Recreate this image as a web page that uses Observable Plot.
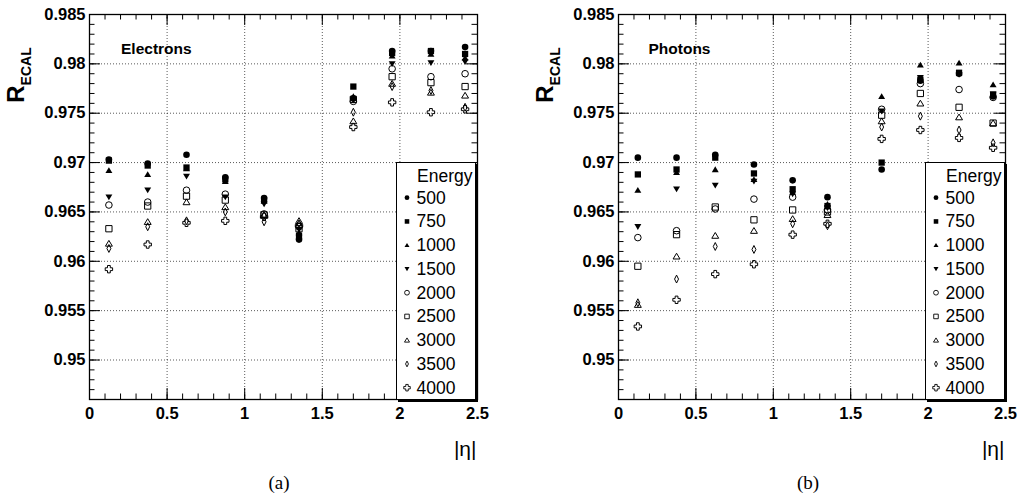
<!DOCTYPE html>
<html><head><meta charset="utf-8">
<script src="https://cdn.jsdelivr.net/npm/d3@7"></script>
<script src="https://cdn.jsdelivr.net/npm/@observablehq/plot@0.6"></script>
<style>
body{margin:0;background:#fff;}
#wrap{position:relative;width:1020px;height:498px;overflow:hidden;font-family:"Liberation Sans",Arial,sans-serif;background:#fff;}
.panel{position:absolute;top:0;}
.cap{position:absolute;top:472px;line-height:22px;font-family:"Liberation Serif","Times New Roman",serif;font-size:19px;transform:translateX(-50%);}
.leg{position:absolute;width:78px;height:236px;border:1px solid #000;box-shadow:2px 2px 0 #000;background:#fff;}
</style></head><body>
<div id="wrap">
<div id="pa" class="panel" style="left:0"></div>
<div id="pb" class="panel" style="left:510px"></div>
<div class="cap" style="left:279px">(a)</div>
<div class="cap" style="left:808px">(b)</div>
<div id="la" class="leg" style="left:396px;top:162px"></div>
<div id="lb" class="leg" style="left:925px;top:162px"></div>
</div>
<script>
// ---- data ----
const etaBins = [0.125, 0.375, 0.625, 0.875, 1.125, 1.35, 1.7, 1.95, 2.2, 2.42];
const energies = [500, 750, 1000, 1500, 2000, 2500, 3000, 3500, 4000];

const electrons500  = [0.9703, 0.9699, 0.9708, 0.9685, 0.9664, 0.9622, 0.9765, 0.9813, 0.9813, 0.9817];
const electrons750  = [0.9702, 0.9697, 0.9695, 0.9683, 0.9662, 0.9626, 0.9777, 0.9811, 0.9813, 0.9810];
const electrons1000 = [0.9692, 0.9688, 0.9694, 0.9681, 0.9661, 0.9629, 0.9767, 0.9808, 0.9810, 0.9806];
const electrons1500 = [0.9665, 0.9672, 0.9686, 0.9665, 0.9658, 0.9632, 0.9763, 0.9800, 0.9801, 0.9802];
const electrons2000 = [0.9657, 0.9660, 0.9672, 0.9668, 0.9648, 0.9635, 0.9762, 0.9795, 0.9787, 0.9790];
const electrons2500 = [0.9633, 0.9656, 0.9666, 0.9662, 0.9647, 0.9633, 0.9764, 0.9787, 0.9781, 0.9777];
const electrons3000 = [0.9618, 0.9640, 0.9660, 0.9655, 0.9647, 0.9641, 0.9742, 0.9780, 0.9771, 0.9768];
const electrons3500 = [0.9613, 0.9635, 0.9641, 0.9650, 0.9640, 0.9638, 0.9751, 0.9777, 0.9773, 0.9756];
const electrons4000 = [0.9592, 0.9617, 0.9639, 0.9641, 0.9645, 0.9636, 0.9736, 0.9761, 0.9751, 0.9754];

const photons500  = [0.9705, 0.9705, 0.9708, 0.9698, 0.9682, 0.9665, 0.9693, 0.9783, 0.9790, 0.9767];
const photons750  = [0.9688, 0.9693, 0.9705, 0.9689, 0.9673, 0.9656, 0.9700, 0.9784, 0.9791, 0.9769];
const photons1000 = [0.9672, 0.9690, 0.9693, 0.9683, 0.9670, 0.9658, 0.9767, 0.9799, 0.9801, 0.9779];
const photons1500 = [0.9635, 0.9673, 0.9677, 0.9681, 0.9668, 0.9654, 0.9752, 0.9786, 0.9789, 0.9769];
const photons2000 = [0.9624, 0.9631, 0.9653, 0.9663, 0.9665, 0.9652, 0.9754, 0.9780, 0.9774, 0.9766];
const photons2500 = [0.9595, 0.9627, 0.9655, 0.9642, 0.9652, 0.9650, 0.9748, 0.9770, 0.9756, 0.9740];
const photons3000 = [0.9556, 0.9605, 0.9626, 0.9631, 0.9643, 0.9647, 0.9742, 0.9760, 0.9746, 0.9740];
const photons3500 = [0.9558, 0.9582, 0.9615, 0.9612, 0.9638, 0.9636, 0.9736, 0.9747, 0.9733, 0.9720];
const photons4000 = [0.9534, 0.9561, 0.9587, 0.9597, 0.9627, 0.9638, 0.9724, 0.9733, 0.9725, 0.9715];

const xTickLabels = [0, 0.5, 1, 1.5, 2, 2.5];
const yTickLabels = [0.95, 0.955, 0.96, 0.965, 0.97, 0.975, 0.98, 0.985];
const xGridValues = [0.5, 1, 1.5, 2];
const yGridValues = [0.95, 0.955, 0.96, 0.965, 0.97, 0.975, 0.98];

const electronSeries = [electrons500, electrons750, electrons1000, electrons1500, electrons2000, electrons2500, electrons3000, electrons3500, electrons4000];
const photonSeries = [photons500, photons750, photons1000, photons1500, photons2000, photons2500, photons3000, photons3500, photons4000];

// ---- symbols (ROOT-like markers) ----
const S = f => ({draw(c, size) { const s = Math.sqrt(size / Math.PI); f(c, s); }});
const sCircle = S((c, s) => { c.moveTo(s, 0); c.arc(0, 0, s, 0, 2 * Math.PI); });
const sSquare = S((c, s) => { const h = s * 0.95; c.moveTo(-h, -h); c.lineTo(h, -h); c.lineTo(h, h); c.lineTo(-h, h); c.closePath(); });
const sTriUp = S((c, s) => { c.moveTo(0, -s * 0.95); c.lineTo(s * 1.05, s * 0.8); c.lineTo(-s * 1.05, s * 0.8); c.closePath(); });
const sTriDown = S((c, s) => { c.moveTo(0, s * 0.95); c.lineTo(s * 1.05, -s * 0.8); c.lineTo(-s * 1.05, -s * 0.8); c.closePath(); });
const sDiamond = S((c, s) => { c.moveTo(0, -1.2 * s); c.lineTo(0.6 * s, 0); c.lineTo(0, 1.2 * s); c.lineTo(-0.6 * s, 0); c.closePath(); });
const sCross = S((c, s) => {
  const a = s * 1.12, b = s * 0.42;
  c.moveTo(-b, -a); c.lineTo(b, -a); c.lineTo(b, -b); c.lineTo(a, -b); c.lineTo(a, b); c.lineTo(b, b);
  c.lineTo(b, a); c.lineTo(-b, a); c.lineTo(-b, b); c.lineTo(-a, b); c.lineTo(-a, -b); c.lineTo(-b, -b); c.closePath();
});
const symbolRange = [sCircle, sSquare, sTriUp, sTriDown, sCircle, sSquare, sTriUp, sDiamond, sCross];
const isFilled = e => e <= 1500;

function rows(series) {
  const out = [];
  energies.forEach((e, j) => etaBins.forEach((eta, i) => out.push({eta, r: series[j][i], e})));
  return out;
}

const W = 510, H = 462, MT = 14, MB = 63;
const fmt = d => String(+d.toFixed(3));
const FS = 16.5;
const FF = "'Liberation Sans', Arial, Helvetica, sans-serif";

function panel(series, title, ml, mr, titleDx) {
  const fw = W - ml - mr, fh = H - MT - MB;
  const data = rows(series);
  const xMinor = d3.range(0, 26).map(d => d / 10);
  const yMinor = d3.range(946, 986).map(d => d / 1000);
  const dotted = {stroke: "#000", strokeOpacity: 0.65, strokeDasharray: "1,2", strokeWidth: 1};
  const svg = Plot.plot({
    width: W, height: H, marginLeft: ml, marginRight: mr, marginTop: MT, marginBottom: MB,
    style: {fontFamily: FF, background: "white", overflow: "visible"},
    x: {domain: [0, 2.5], axis: null},
    y: {domain: [0.946, 0.985], axis: null},
    symbol: {domain: energies, range: symbolRange},
    marks: [
      Plot.ruleX(xGridValues, {x: d => d, ...dotted}),
      Plot.ruleY(yGridValues, {y: d => d, ...dotted}),
      // ticks inside the frame (ROOT style)
      Plot.ruleY(yMinor, {y: d => d, insetRight: fw - 5.5, stroke: "#000"}),
      Plot.ruleY(yTickLabels, {y: d => d, insetRight: fw - 11, stroke: "#000"}),
      Plot.ruleY(yMinor, {y: d => d, insetLeft: fw - 5.5, stroke: "#000"}),
      Plot.ruleY(yTickLabels, {y: d => d, insetLeft: fw - 11, stroke: "#000"}),
      Plot.ruleX(xMinor, {x: d => d, insetTop: fh - 5.5, stroke: "#000"}),
      Plot.ruleX(xTickLabels, {x: d => d, insetTop: fh - 11, stroke: "#000"}),
      Plot.ruleX(xMinor, {x: d => d, insetBottom: fh - 5.5, stroke: "#000"}),
      Plot.ruleX(xTickLabels, {x: d => d, insetBottom: fh - 11, stroke: "#000"}),
      Plot.frame({stroke: "#000", strokeWidth: 1.3}),
      // tick labels
      Plot.text(yTickLabels, {y: d => d, text: fmt, frameAnchor: "left", textAnchor: "end", dx: -4, fontSize: FS, fontWeight: "bold", fill: "#000"}),
      Plot.text(xTickLabels, {x: d => d, text: fmt, frameAnchor: "bottom", lineAnchor: "middle", dy: 14, fontSize: FS, fontWeight: "bold", fill: "#000"}),
      Plot.text(["|η|"], {frameAnchor: "bottom-right", textAnchor: "end", lineAnchor: "middle", dy: 50, dx: -1, fontSize: 21, fill: "#000"}),
      Plot.text([title], {frameAnchor: "top-left", textAnchor: "start", lineAnchor: "middle", dx: titleDx, dy: 35, fontSize: 15.5, fontWeight: "bold", fill: "#000"}),
      // data
      Plot.dot(data.filter(d => isFilled(d.e)), {x: "eta", y: "r", symbol: "e", r: 3.3, fill: "#000", stroke: null}),
      Plot.dot(data.filter(d => !isFilled(d.e)), {x: "eta", y: "r", symbol: "e", r: 3.3, fill: "none", stroke: "#000", strokeWidth: 1})
    ]
  });
  // y-axis title R_ECAL
  const t = d3.select(svg).append("text")
    .attr("transform", `translate(${ml - 65},${MT + 61}) rotate(-90)`)
    .attr("font-family", FF)
    .attr("font-weight", "bold").attr("fill", "#000");
  t.append("tspan").attr("font-size", 24).text("R");
  t.append("tspan").attr("font-size", 14).attr("dy", 7).text("ECAL");
  return svg;
}

document.getElementById("pa").appendChild(panel(electronSeries, "Electrons", 89, 33, 31.5));
document.getElementById("pb").appendChild(panel(photonSeries, "Photons", 108, 15, 30));

function legend(el) {
  const w = 78, h = 236;
  const svg = d3.select(el).append("svg").attr("width", w).attr("height", h).style("display", "block");
  svg.append("text").attr("x", 20).attr("y", 13).attr("dominant-baseline", "central")
    .attr("font-family", FF).attr("font-size", 17.5).text("Energy");
  energies.forEach((e, i) => {
    const cy = 34.7 + i * 23.75;
    const p = d3.path();
    const s = i === 8 ? 2.9 : 2.4;
    symbolRange[i].draw(p, Math.PI * s * s);
    svg.append("path").attr("d", p.toString()).attr("transform", `translate(10,${cy})`)
      .attr("fill", isFilled(e) ? "#000" : "none").attr("stroke", isFilled(e) ? "none" : "#000").attr("stroke-width", 0.9);
    svg.append("text").attr("x", 19.5).attr("y", cy).attr("dominant-baseline", "central")
      .attr("font-family", FF).attr("font-size", 17.5).text(e);
  });
}
legend(document.getElementById("la"));
legend(document.getElementById("lb"));
</script>
</body></html>
